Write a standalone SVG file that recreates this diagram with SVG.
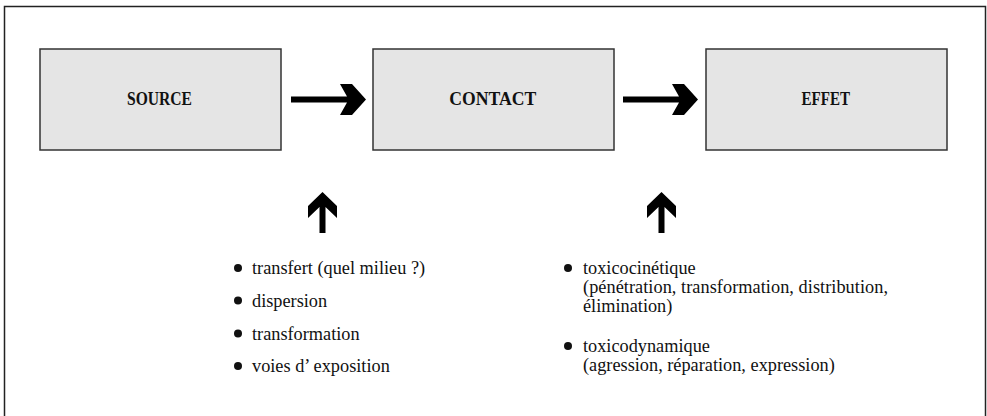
<svg xmlns="http://www.w3.org/2000/svg" width="987" height="416" viewBox="0 0 987 416">
<style>
.box{fill:#e5e5e5;stroke:#333;stroke-width:1.5}
.lbl{font-family:"Liberation Serif","DejaVu Serif",serif;font-weight:bold;font-size:18.5px;fill:#111;text-anchor:middle}
.txt{font-family:"Liberation Serif","DejaVu Serif",serif;font-size:18.3px;fill:#111}
.dot{fill:#111}
.arr{fill:#000}
</style>
<rect x="4.5" y="6.5" width="981" height="420" fill="#fff" stroke="#222" stroke-width="1.5"/>
<g id="source"><rect class="box" x="40" y="49" width="241" height="101"/><text class="lbl" x="159.5" y="105" textLength="65" lengthAdjust="spacingAndGlyphs">SOURCE</text></g>
<g id="contact"><rect class="box" x="373" y="49" width="241" height="101"/><text class="lbl" x="492.7" y="105" textLength="87" lengthAdjust="spacingAndGlyphs">CONTACT</text></g>
<g id="effet"><rect class="box" x="706" y="49" width="241" height="101"/><text class="lbl" x="825.8" y="105" textLength="48.5" lengthAdjust="spacingAndGlyphs">EFFET</text></g>
<g id="connectors">
<path class="arr" d="M291 96.5 H347 L340 84 H352 L366 99.5 L352 115 H340 L347 102.5 H291 Z"/>
<path class="arr" d="M623 96.5 H679 L672 84 H684 L698 99.5 L684 115 H672 L679 102.5 H623 Z"/>
<path class="arr" d="M319.5 233 V207 L308 218 V206 L322.5 192 L337 206 V218 L325.5 207 V233 Z"/>
<path class="arr" d="M658.5 233 V207 L647 218 V206 L661.5 192 L676 206 V218 L664.5 207 V233 Z"/>
</g>
<g id="list-source">
<circle class="dot" cx="238" cy="268" r="4"/><text class="txt" x="252" y="274">transfert (quel milieu ?)</text>
<circle class="dot" cx="238" cy="300.5" r="4"/><text class="txt" x="252" y="306.5">dispersion</text>
<circle class="dot" cx="238" cy="333.5" r="4"/><text class="txt" x="252" y="339.5">transformation</text>
<circle class="dot" cx="238" cy="366" r="4"/><text class="txt" x="252" y="372">voies d’ exposition</text>
</g>
<g id="list-effet">
<circle class="dot" cx="568" cy="268" r="4"/><text class="txt" x="583" y="274">toxicocinétique</text>
<text class="txt" x="583" y="293" textLength="305" lengthAdjust="spacing">(pénétration, transformation, distribution,</text>
<text class="txt" x="583" y="312">élimination)</text>
<circle class="dot" cx="568" cy="346" r="4"/><text class="txt" x="583" y="352">toxicodynamique</text>
<text class="txt" x="583" y="371">(agression, réparation, expression)</text>
</g>
</svg>
